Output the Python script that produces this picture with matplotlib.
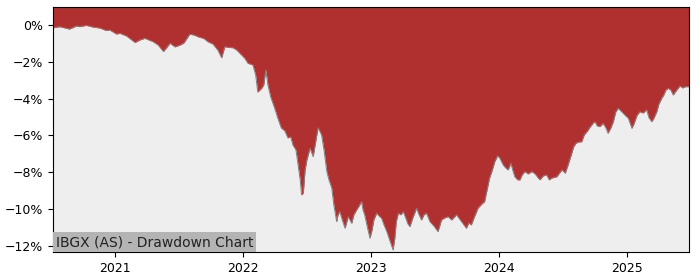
import numpy as np
import pandas as pd
import matplotlib
matplotlib.use("Agg")
import matplotlib.pyplot as plt
from matplotlib.ticker import PercentFormatter
import matplotlib.dates as mdates

# Drawdown (%)
dates = [
    "2020-07-08", "2020-07-27", "2020-08-16", "2020-08-24", "2020-09-13", "2020-09-22",
    "2020-10-11", "2020-10-30", "2020-11-18", "2020-12-07", "2020-12-17", "2021-01-05",
    "2021-01-15", "2021-02-03", "2021-02-27", "2021-03-13", "2021-03-27", "2021-04-20",
    "2021-05-04", "2021-05-19", "2021-06-07", "2021-06-21", "2021-07-05", "2021-07-16",
    "2021-08-02", "2021-08-14", "2021-08-26", "2021-09-11", "2021-09-23", "2021-10-07",
    "2021-10-21", "2021-11-01", "2021-11-10", "2021-11-22", "2021-12-03", "2021-12-14",
    "2021-12-28", "2022-01-06", "2022-01-15", "2022-01-29", "2022-02-06", "2022-02-12",
    "2022-02-23", "2022-03-01", "2022-03-07", "2022-03-13", "2022-03-21", "2022-04-01",
    "2022-04-10", "2022-04-20", "2022-04-30", "2022-05-09", "2022-05-17", "2022-05-23",
    "2022-06-01", "2022-06-07", "2022-06-13", "2022-06-17", "2022-06-22", "2022-06-27",
    "2022-07-02", "2022-07-11", "2022-07-20", "2022-07-28", "2022-08-03", "2022-08-13",
    "2022-08-20", "2022-08-28", "2022-09-03", "2022-09-11", "2022-09-17", "2022-09-25",
    "2022-09-29", "2022-10-04", "2022-10-11", "2022-10-19", "2022-10-28", "2022-11-07",
    "2022-11-13", "2022-11-21", "2022-11-28", "2022-12-05", "2022-12-09", "2022-12-14",
    "2022-12-22", "2022-12-29", "2023-01-04", "2023-01-09", "2023-01-17", "2023-01-24",
    "2023-01-31", "2023-02-07", "2023-02-15", "2023-02-21", "2023-02-27", "2023-03-05",
    "2023-03-10", "2023-03-14", "2023-03-20", "2023-03-27", "2023-04-03", "2023-04-10",
    "2023-04-16", "2023-04-22", "2023-04-30", "2023-05-11", "2023-05-17", "2023-05-25",
    "2023-06-01", "2023-06-08", "2023-06-18", "2023-06-29", "2023-07-11", "2023-07-21",
    "2023-07-30", "2023-08-09", "2023-08-19", "2023-09-02", "2023-09-16", "2023-09-23",
    "2023-09-30", "2023-10-07", "2023-10-14", "2023-10-24", "2023-11-02", "2023-11-13",
    "2023-11-21", "2023-11-28", "2023-12-05", "2023-12-13", "2023-12-20", "2023-12-28",
    "2024-01-03", "2024-01-13", "2024-01-20", "2024-01-27", "2024-02-04", "2024-02-09",
    "2024-02-15", "2024-02-23", "2024-03-01", "2024-03-07", "2024-03-15", "2024-03-24",
    "2024-04-04", "2024-04-13", "2024-04-22", "2024-04-27", "2024-05-06", "2024-05-16",
    "2024-05-23", "2024-05-31", "2024-06-14", "2024-06-24", "2024-06-29", "2024-07-08",
    "2024-07-16", "2024-07-25", "2024-08-01", "2024-08-08", "2024-08-17", "2024-08-24",
    "2024-08-31", "2024-09-08", "2024-09-17", "2024-09-26", "2024-10-01", "2024-10-07",
    "2024-10-15", "2024-10-24", "2024-11-01", "2024-11-07", "2024-11-15", "2024-11-22",
    "2024-11-29", "2024-12-06", "2024-12-14", "2024-12-22", "2025-01-04", "2025-01-14",
    "2025-01-20", "2025-01-29", "2025-02-06", "2025-02-15", "2025-02-25", "2025-03-04",
    "2025-03-12", "2025-03-18", "2025-03-26", "2025-04-01", "2025-04-09", "2025-04-15",
    "2025-04-21", "2025-04-28", "2025-05-05", "2025-05-12", "2025-05-20", "2025-05-31",
    "2025-06-08", "2025-06-15", "2025-06-26",
]
drawdown = [
    -0.15, -0.09, -0.18, -0.22, -0.05, -0.09,
    -0.02, -0.11, -0.16, -0.30, -0.27, -0.49,
    -0.45, -0.60, -0.95, -0.81, -0.72, -0.91,
    -1.09, -1.44, -0.99, -1.19, -1.09, -0.98,
    -0.50, -0.54, -0.64, -0.73, -0.91, -1.03,
    -1.36, -1.78, -1.18, -1.22, -1.23, -1.36,
    -1.63, -1.81, -2.08, -2.17, -2.71, -3.64,
    -3.44, -3.26, -2.44, -3.26, -3.91, -4.51,
    -5.05, -5.59, -5.75, -6.13, -6.08, -6.51,
    -6.79, -7.60, -8.41, -9.23, -9.12, -7.87,
    -7.33, -6.69, -7.15, -6.24, -5.58, -5.97,
    -6.79, -7.96, -8.41, -8.85, -9.77, -10.68,
    -10.31, -10.14, -10.59, -11.04, -10.41, -10.77,
    -10.31, -10.04, -9.83, -9.59, -10.04, -10.31,
    -11.02, -11.58, -11.13, -10.59, -10.22, -10.37,
    -10.49, -10.86, -11.22, -11.56, -11.89, -12.22,
    -11.56, -10.69, -10.22, -10.31, -10.14, -10.48,
    -10.80, -10.95, -10.48, -9.95, -10.26, -10.59,
    -10.31, -10.22, -10.68, -10.91, -11.22, -10.59,
    -10.48, -10.41, -10.59, -10.31, -10.68, -10.86,
    -11.04, -10.75, -10.86, -10.37, -9.95, -9.72,
    -9.59, -8.96, -8.32, -7.87, -7.42, -7.10,
    -7.22, -7.60, -7.76, -7.87, -7.51, -7.87,
    -8.24, -8.41, -8.41, -8.14, -7.96, -8.09,
    -7.96, -8.09, -8.31, -8.41, -8.20, -8.14,
    -8.41, -8.31, -8.24, -7.98, -7.87, -8.05,
    -7.60, -7.06, -6.61, -6.41, -6.35, -6.34,
    -5.97, -5.79, -5.54, -5.32, -5.25, -5.48,
    -5.52, -5.34, -5.59, -5.88, -5.59, -5.25,
    -4.72, -4.52, -4.67, -4.83, -5.07, -5.61,
    -5.37, -4.89, -4.71, -4.78, -4.61, -5.05,
    -5.25, -5.05, -4.71, -4.29, -3.98, -3.80,
    -3.53, -3.44, -3.53, -3.80, -3.58, -3.31,
    -3.42, -3.35, -3.35,
]
titre = "IBGX (AS) - Drawdown Chart"

x = pd.to_datetime(dates)
y = np.array(drawdown)
y_haut = 0.98
y_bas = -12.33

fig = plt.figure(figsize=(7, 2.8), dpi=100)
ax = fig.add_axes([0.0757, 0.1, 0.9086, 0.875])
ax.set_facecolor("#eeeeee")

# Zone rouge au-dessus de la courbe
ax.fill_between(x, y, y_haut, color="#b03030", linewidth=0)
ax.plot(x, y, color="#808080", linewidth=0.7)

ax.set_xlim(x[0], x[-1])
ax.set_ylim(y_bas, y_haut)
ax.set_yticks([0, -2, -4, -6, -8, -10, -12])
ax.yaxis.set_major_formatter(PercentFormatter(xmax=100, decimals=0))
ax.xaxis.set_major_locator(mdates.YearLocator())
ax.xaxis.set_major_formatter(mdates.DateFormatter("%Y"))
ax.tick_params(labelsize=9)

ax.text(0.004, 0.012, titre, transform=ax.transAxes, fontsize=10,
        ha="left", va="bottom", color="#222222",
        bbox=dict(facecolor="#b4b4b4", edgecolor="none", pad=2))

fig.savefig("out.png", dpi=100)
